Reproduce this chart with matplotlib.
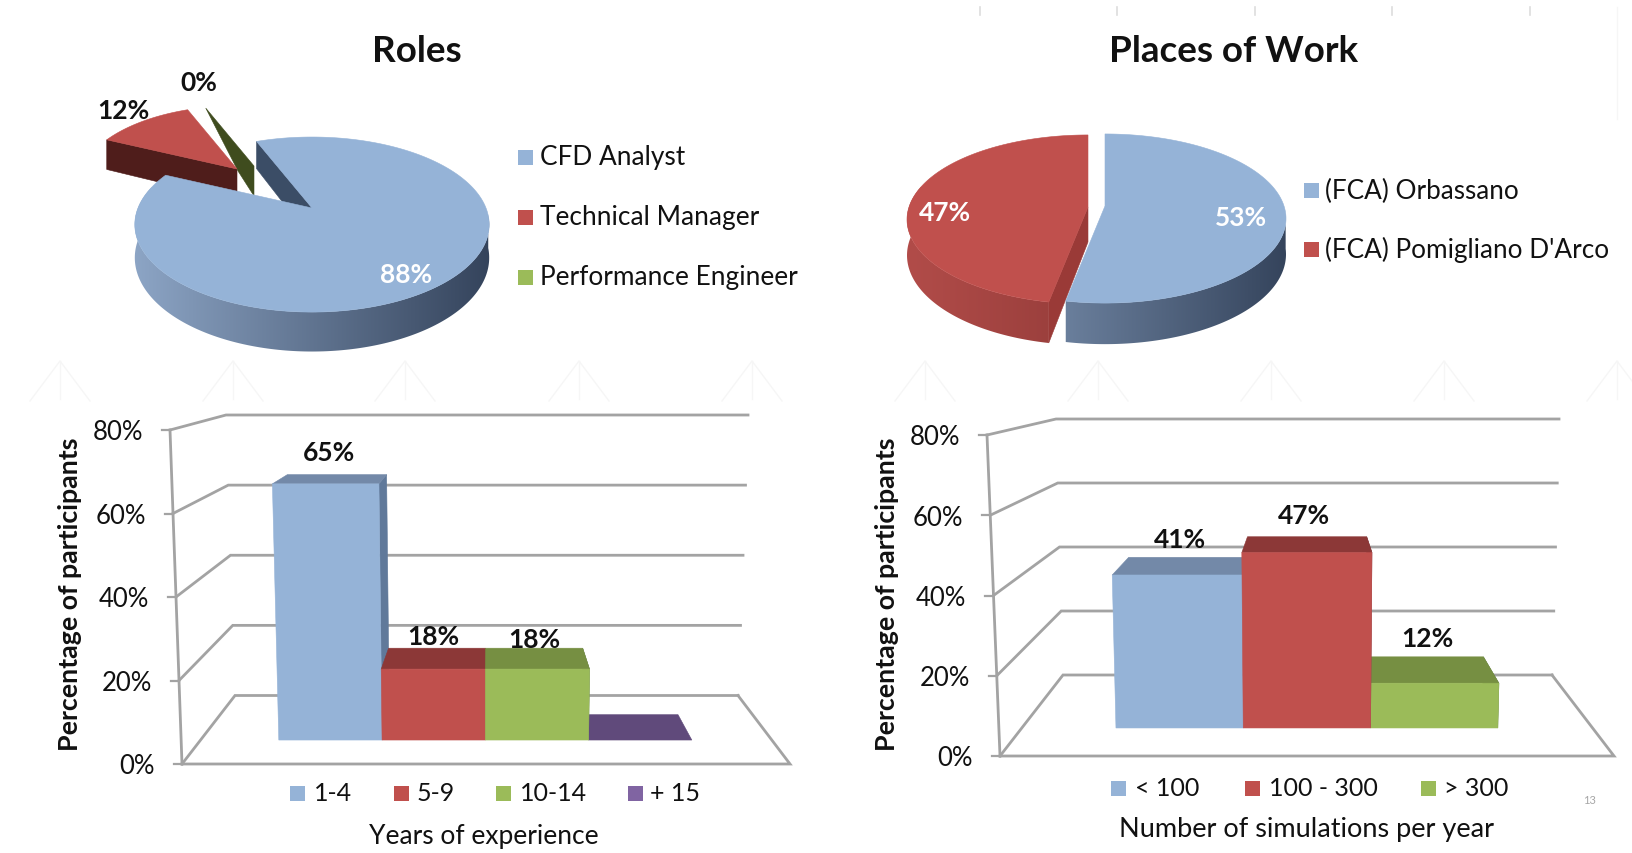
# %%
import numpy as np
import matplotlib
matplotlib.use('Agg')
import matplotlib.pyplot as plt
from matplotlib.colors import to_rgb
from matplotlib.patches import Polygon, Rectangle

plt.rcParams['font.family'] = ['Lato', 'DejaVu Sans']

# %%
# values
roles = ['CFD Analyst', 'Technical Manager', 'Performance Engineer']
roles_pct = [88, 12, 0]
places = ['(FCA) Orbassano', "(FCA) Pomigliano D'Arco"]
places_pct = [53, 47]

years = ['1-4', '5-9', '10-14', '+ 15']
years_pct = [65, 18, 18, 0]
sims = ['< 100', '100 - 300', '> 300']
sims_pct = [41, 47, 12]
axis_ticks = [0, 20, 40, 60, 80]

blue, red, green, purple = '#95B3D7', '#C0504D', '#9BBB59', '#8064A2'
top_colors = {blue: '#7389A8', red: '#8C3837', green: '#768F42', purple: '#604A7B'}
grid_color = '#A3A3A3'
text_color = '#111111'

# %%
fig = plt.figure(figsize=(16.33, 8.54), dpi=100)
ax = fig.add_axes([0, 0, 1, 1])
ax.set_xlim(0, 1633)
ax.set_ylim(854, 0)
ax.set_autoscale_on(False)
ax.axis('off')

# faint slide background
for x in [60, 233, 405, 579, 752, 925, 1098, 1271, 1444, 1617]:
    ax.plot([x - 30, x, x + 30], [402, 362, 402], color='#F6F6F6', lw=1, zorder=0)
    ax.plot([x, x], [362, 400], color='#F6F6F6', lw=1, zorder=0)
for x in [980, 1117, 1255, 1392, 1530]:
    ax.plot([x, x], [8, 16], color='#DDDDDD', lw=1.2, zorder=0)
ax.plot([1617, 1617], [8, 120], color='#F6F6F6', lw=1, zorder=0)


def lerp(a, b, t):
    return a + (b - a) * t


def shade(c1, c2, t):
    return tuple(lerp(np.array(to_rgb(c1)), np.array(to_rgb(c2)), t))


def poly(pts, color, z=2):
    ax.add_patch(Polygon(pts, closed=True, facecolor=color, edgecolor=color, linewidth=0.4, zorder=z))


# %%
# pies: circle seen in perspective, angle clockwise from the top
def rim(deg, g, apex=None, scale=1.0):
    cx, cy = apex if apex else g['apex']
    a = np.radians(deg)
    w = 1 + g['p'] * np.cos(a)
    return cx + scale * g['R'] * np.sin(a) / w, cy - scale * g['k'] * np.cos(a) / w


def lower(pt, deg, g):
    w = 1 + g['p'] * np.cos(np.radians(deg))
    return pt[0], pt[1] + g['h'] / w


def pie_top(a0, a1, g, color, apex=None, scale=1.0):
    angs = np.arange(a0, a1, 1.0).tolist() + [a1]
    pts = [apex if apex else g['apex']] + [rim(t, g, apex, scale) for t in angs]
    poly(pts, color, 3)


def pie_side(a0, a1, g, c_left, c_right, apex=None):
    # rim band filled with a left to right gradient
    lo, hi = max(a0, 95), min(a1, 285)
    angs = np.arange(lo, hi, 1.0).tolist() + [hi]
    upper = [rim(t, g, apex) for t in angs]
    under = [lower(p, t, g) for p, t in zip(upper, angs)]
    band = Polygon(upper + under[::-1], closed=True, facecolor='none', edgecolor='none', zorder=2)
    ax.add_patch(band)
    cx = g['apex'][0]
    x0, x1 = cx - g['R'] - 30, cx + g['R'] + 10
    ramp = np.array([[shade(c_left, c_right, t) for t in np.linspace(0, 1, 256)]])
    im = ax.imshow(ramp, extent=(x0, x1, 400, 100), aspect='auto', zorder=2, interpolation='bilinear')
    im.set_clip_path(band)


def pie_wall(deg, g, color, apex=None, scale=1.0):
    ap = apex if apex else g['apex']
    p1 = rim(deg, g, apex, scale)
    poly([ap, p1, lower(p1, deg, g), (ap[0], ap[1] + g['h'])], color, 2)


# Roles
g1 = dict(apex=(312, 209), R=174, k=84.4, p=0.189, h=32)
start = 338 - 360
blue_end = start + roles_pct[0] * 3.6
red_end = blue_end + roles_pct[1] * 3.6
red_apex = (237, 170)
green_apex = (254, 167)
pie_wall(blue_end, g1, '#4F1D1B', red_apex, 0.89)
pie_top(blue_end, red_end, g1, red, red_apex, 0.89)
# zero slice, only its wall shows
tip = rim(red_end, g1, green_apex, 0.87)
poly([tip, green_apex, (green_apex[0], green_apex[1] + 30), (green_apex[0] - 16, green_apex[1] + 5)], '#3F4C1E', 2.2)
pie_wall(start, g1, '#3B4D66')
pie_side(start, blue_end, g1, '#93ACCD', '#33425A')
pie_top(start, blue_end, g1, blue)

# Places of Work
g2 = dict(apex=(1105, 207), R=179, k=82.7, p=0.148, h=35)
blue_end2 = places_pct[0] * 3.6
red_end2 = blue_end2 + places_pct[1] * 3.6
red_apex2 = (1088, 208)
pie_side(blue_end2, red_end2, g2, '#B34D4A', '#772B29', red_apex2)
pie_wall(blue_end2, g2, '#9A3A37', red_apex2)
pie_top(blue_end2, red_end2, g2, red, red_apex2)
pie_side(0, blue_end2, g2, '#93ACCD', '#33425A')
pie_top(0, blue_end2, g2, blue)

for txt, x, y, col in [('88%', 406, 275, 'white'), ('12%', 123, 111, text_color), ('0%', 199, 83, text_color),
                       ('47%', 945, 213, 'white'), ('53%', 1241, 218, 'white')]:
    ax.text(x, y, txt, color=col, fontsize=19, fontweight='bold', ha='center', va='center', zorder=6)

ax.text(417, 51, 'Roles', fontsize=26.5, fontweight='bold', ha='center', va='center', color=text_color)
ax.text(1234, 51, 'Places of Work', fontsize=26.5, fontweight='bold', ha='center', va='center', color=text_color)


def legend(items, colors, xs, ys, tx, size=15, fs=18):
    for i, name in enumerate(items):
        ax.add_patch(Rectangle((xs[i], ys[i] - size / 2), size, size, facecolor=colors[i], edgecolor='none'))
        ax.text(tx[i], ys[i], name, fontsize=fs, color=text_color, ha='left', va='center')


legend(roles, [blue, red, green], [518] * 3, [158, 218, 278], [540] * 3, fs=18.9)
legend(places, [blue, red], [1304] * 2, [191, 250], [1325] * 2, fs=18.8)


# %%
# bars: the box of the 3D chart given by its corners
def project(u, d, v, g):
    t = v / axis_ticks[-1]
    left = lerp(lerp(g['fl0'][0], g['fl1'][0], t), lerp(g['bl0'][0], g['bl1'][0], t), d)
    right = lerp(lerp(g['fr0'][0], g['fr1'][0], t), lerp(g['br0'][0], g['br1'][0], t), d)
    y = lerp(lerp(g['fl0'][1], g['fl1'][1], t), lerp(g['bl0'][1], g['bl1'][1], t), d)
    return lerp(left, right, u), y


def bar_chart(values, colors, g, lifts):
    for v in axis_ticks:
        pts = [project(0, 0, v, g), project(0, 1, v, g), project(1, 1, v, g)]
        ax.plot(*zip(*pts), color=grid_color, lw=2, zorder=1, solid_joinstyle='miter')
        x0, y0 = project(0, 0, v, g)
        ax.plot([x0 - 8, x0], [y0, y0], color=grid_color, lw=1.6, zorder=1)
        ax.text(x0 - 27, y0 + 2, f'{v}%', fontsize=18.5, color=text_color, ha='right', va='center')
    floor = [project(0, 0, 0, g), project(1, 0, 0, g), project(1, 1, 0, g)]
    ax.plot(*zip(*floor), color=grid_color, lw=2, zorder=1, solid_joinstyle='miter')
    axis_line = [project(0, 0, 0, g), project(0, 0, axis_ticks[-1], g)]
    ax.plot(*zip(*axis_line), color=grid_color, lw=2, zorder=1)

    w = (g['u1'] - g['u0']) / len(values)
    d0, d1 = g['d0'], g['d1']
    for i, v in enumerate(values):
        a, b = g['u0'] + i * w, g['u0'] + (i + 1) * w
        c = colors[i]
        # bars nearer the middle hide the outer ones
        z = 3 - abs((a + b) / 2 - 0.5)
        if v > 0:
            poly([project(b, d0, 0, g), project(b, d1, 0, g), project(b, d1, v, g), project(b, d0, v, g)],
                 shade(c, '#1F3350', 0.45), z)
        poly([project(a, d0, v, g), project(b, d0, v, g), project(b, d1, v, g), project(a, d1, v, g)],
             top_colors[c], z + 0.01)
        if v > 0:
            poly([project(a, d0, 0, g), project(b, d0, 0, g), project(b, d0, v, g), project(a, d0, v, g)],
                 c, z + 0.02)
            lx = (project(a, d0, v, g)[0] + project(b, d1, v, g)[0]) / 2
            ly = project(a, d1, v, g)[1] - lifts[i]
            ax.text(lx, ly, f'{v}%', fontsize=19, fontweight='bold', color=text_color,
                    ha='center', va='center', zorder=6)


g3 = dict(fl0=(182, 765), fl1=(170, 431), fr0=(790, 765), fr1=(802, 431),
          bl0=(235, 696.5), bl1=(226, 416), br0=(738, 696.5), br1=(748, 416),
          u0=0.137, u1=0.86, d0=0.35, d1=0.72)
bar_chart(years_pct, [blue, red, green, purple], g3, [23, 12, 9, 0])
legend(years, [blue, red, green, purple], [290, 394, 496, 628], [794] * 4, [314, 417, 520, 650], fs=18)
ax.text(484, 837, 'Years of experience', fontsize=19, color=text_color, ha='center', va='center')
ax.text(70, 594, 'Percentage of participants', fontsize=19.3, fontweight='bold', color=text_color,
        rotation=90, ha='center', va='center')

g4 = dict(fl0=(1000, 757), fl1=(987, 436), fr0=(1614, 757), fr1=(1627, 436),
          bl0=(1063, 676), bl1=(1056, 420), br0=(1552, 676), br1=(1559, 420),
          u0=0.165, u1=0.834, d0=0.346, d1=0.716)
bar_chart(sims_pct, [blue, red, green], g4, [18, 22, 19])
legend(sims, [blue, red, green], [1111, 1245, 1421], [789] * 3, [1135, 1269, 1444], fs=18)
ax.text(1307, 830, 'Number of simulations per year', fontsize=19.5, color=text_color, ha='center', va='center')
ax.text(887, 594, 'Percentage of participants', fontsize=19.3, fontweight='bold', color=text_color,
        rotation=90, ha='center', va='center')

ax.text(1590, 801, '13', fontsize=8, color='#A6A6A6', ha='center', va='center')

fig.savefig('out.png', dpi=100)
